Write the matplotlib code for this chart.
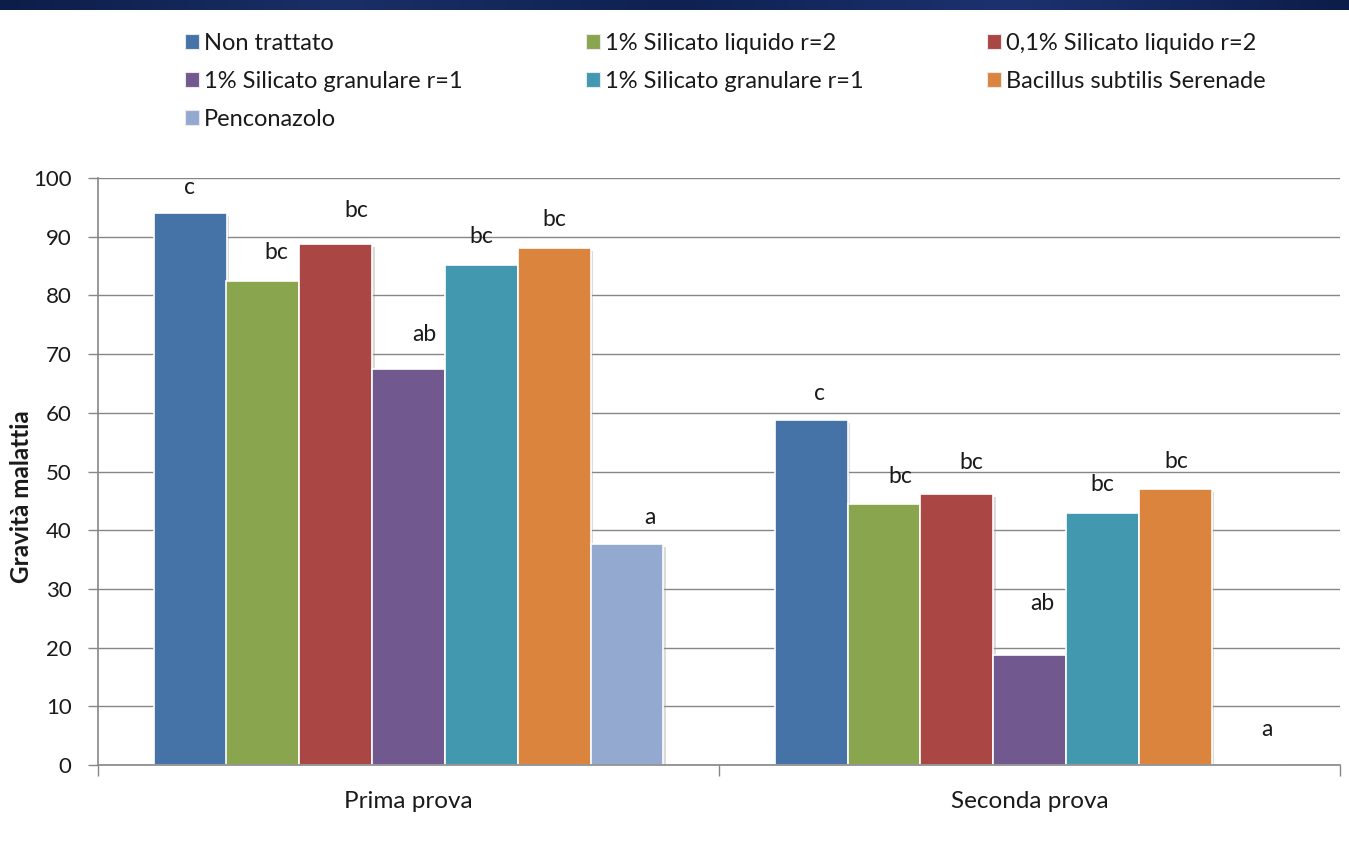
import matplotlib
matplotlib.use("Agg")
import matplotlib.pyplot as plt
import numpy as np
from matplotlib.patches import Patch
import matplotlib.patheffects as pe

plt.rcParams['font.family'] = ['Lato', 'DejaVu Sans']

# Data
trials = ["Prima prova", "Seconda prova"]
treatments = [
    "Non trattato",
    "1% Silicato liquido r=2",
    "0,1% Silicato liquido r=2",
    "1% Silicato granulare r=1",
    "1% Silicato granulare r=1",
    "Bacillus subtilis Serenade",
    "Penconazolo",
]
prima = [94.0, 82.5, 88.8, 67.5, 85.2, 88.1, 37.6]
seconda = [58.7, 44.5, 46.2, 18.8, 43.0, 47.0, 0.0]
letters_prima = ["c", "bc", "bc", "ab", "bc", "bc", "a"]
letters_seconda = ["c", "bc", "bc", "ab", "bc", "bc", "a"]
yticks = [0, 10, 20, 30, 40, 50, 60, 70, 80, 90, 100]

colors = ["#4572A7", "#89A54E", "#AA4643", "#71588F", "#4198AF", "#DB843D", "#93A9CF"]

# Label nudges (pixels): horizontal shift and height above bar top
dx_px = [[-1, 13, 21, 16, 0, 0, 23], [8, 16, 15, 13, 0, 1, 19]]
dy_px = [[26, 28, 33, 34, 28, 28, 27], [27, 27, 31, 51, 28, 28, 35]]

W, H = 1349, 843
fig = plt.figure(figsize=(W / 100, H / 100), dpi=100)
fig.patch.set_facecolor("white")

# Dark slide band at the very top
band = fig.add_axes([0, 1 - 10 / H, 1, 10 / H])
grad = np.linspace(0, 1, 256)[None, :]
band.imshow(grad, aspect="auto", cmap=matplotlib.colors.LinearSegmentedColormap.from_list(
    "b", ["#0d1d4a", "#1a2f66", "#0f2152", "#1c3270", "#0d1d4a"]), extent=[0, 1, 0, 1])
band.axis("off")

left, right = 98 / W, 1340 / W
bottom, top = 1 - 765 / H, 1 - 178 / H
ax = fig.add_axes([left, bottom, right - left, top - bottom])

n = len(treatments)
group_w = 509.6 / 621
bw = group_w / n
x = np.arange(len(trials))
values = [prima, seconda]
letters = [letters_prima, letters_seconda]

shadow = [pe.SimplePatchShadow(offset=(2, -2), shadow_rgbFace="#9a9a9a", alpha=0.35), pe.Normal()]

for i in range(n):
    xs = x - group_w / 2 + bw * (i + 0.5)
    vals = [values[g][i] for g in range(len(trials))]
    bars = ax.bar(xs, vals, width=bw, color=colors[i], edgecolor="white", linewidth=1.2,
                  zorder=3)
    for b, v in zip(bars, vals):
        if v > 0:
            b.set_path_effects(shadow)
    for g in range(len(trials)):
        ax.annotate(letters[g][i], xy=(xs[g], vals[g]),
                    xytext=(dx_px[g][i] * 0.72, dy_px[g][i] * 0.72), textcoords="offset points",
                    ha="center", va="center", fontsize=16.5, color="#1a1a1a", zorder=5)

ax.set_xlim(-0.5, 1.5)
ax.set_ylim(0, 100)
ax.set_yticks(yticks)
ax.tick_params(axis="y", labelsize=16, length=7, width=1, color="#868686", pad=12,
               labelcolor="#1a1a1a")
ax.set_xticks([-0.5, 0.5, 1.5])
ax.set_xticklabels([])
ax.tick_params(axis="x", length=8, width=1, color="#868686")
for g, name in enumerate(trials):
    ax.text(x[g], -6.3, name, ha="center", va="center", fontsize=17.5, color="#1a1a1a",
            transform=ax.transData)

ax.grid(axis="y", color="#868686", linewidth=1, zorder=0)
ax.set_axisbelow(True)
for s in ["top", "right"]:
    ax.spines[s].set_visible(False)
for s in ["left", "bottom"]:
    ax.spines[s].set_color("#868686")
    ax.spines[s].set_linewidth(1.2)
ax.spines["bottom"].set_zorder(4)

fig.text(22 / W, 1 - 497 / H, "Gravità malattia", rotation=90, ha="center", va="center",
         fontsize=17.5, fontweight="bold", color="#1a1a1a")

# Legend, row-major order across three columns
handles = [Patch(facecolor=c, edgecolor="#e8e8e8", linewidth=0.8) for c in colors]
order = [0, 3, 6, 1, 4, 2, 5]
leg = fig.legend([handles[k] for k in order], [treatments[k] for k in order],
                 ncol=3, loc="upper left", bbox_to_anchor=(185 / W, 1 - 33 / H),
                 frameon=False, fontsize=17, handlelength=0.6, handleheight=0.6,
                 handletextpad=0.22, columnspacing=5.2, labelspacing=0.72, borderpad=0,
                 borderaxespad=0)
for t in leg.get_texts():
    t.set_color("#1a1a1a")

fig.savefig("out.png", dpi=100)
